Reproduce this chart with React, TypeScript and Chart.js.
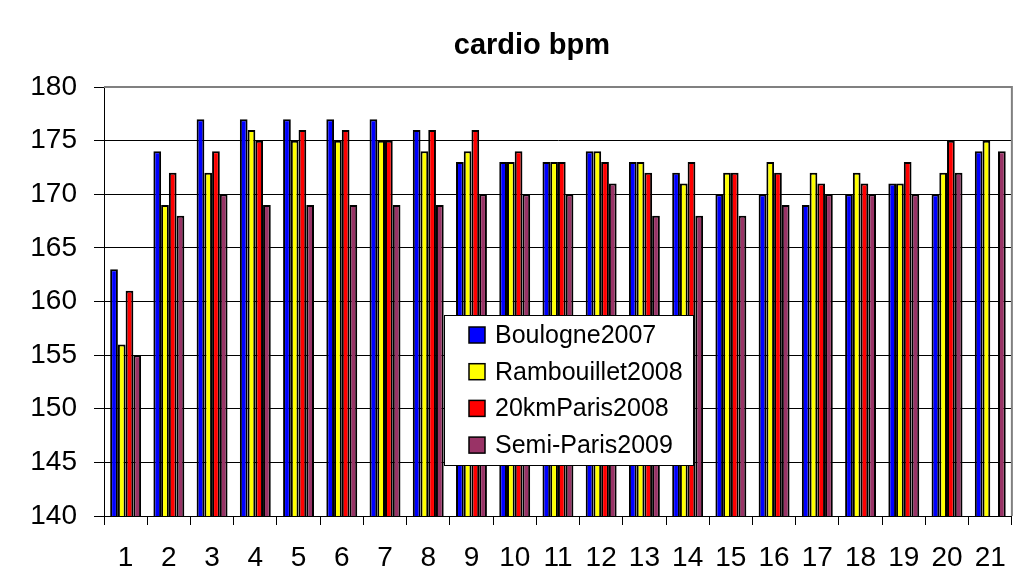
import React, { useEffect, useRef } from "react";
import { Chart, registerables } from "chart.js";

Chart.register(...registerables);

const chartTitle = "cardio bpm";
const categories = ["1","2","3","4","5","6","7","8","9","10","11","12","13","14","15","16","17","18","19","20","21"];
const boulogne2007 = [163,174,177,177,177,177,177,176,173,173,173,174,173,172,170,170,169,170,171,170,174];
const rambouillet2008 = [156,169,172,176,175,175,175,174,174,173,173,174,173,171,172,173,172,172,171,172,175];
const paris20km2008 = [161,172,174,175,176,176,175,176,176,174,173,173,172,173,172,172,171,171,173,175,null];
const semiParis2009 = [155,168,170,169,169,169,169,169,170,170,170,171,168,168,168,169,170,170,170,172,174];
const seriesNames = ["Boulogne2007", "Rambouillet2008", "20kmParis2008", "Semi-Paris2009"];
const seriesColors = ["#0000FF", "#FFFF00", "#FF0000", "#993366"];
const yMin = 140;
const yMax = 180;
const yStep = 5;

const FONT = "'Liberation Sans', Arial, sans-serif";

const frameTitleLegend = {
  id: "frameTitleLegend",
  afterDraw(chart: any) {
    const { ctx, chartArea } = chart;
    ctx.save();
    // title
    ctx.fillStyle = "#000";
    ctx.font = `bold 29px ${FONT}`;
    ctx.textAlign = "center";
    ctx.textBaseline = "middle";
    ctx.fillText(chartTitle, (chartArea.left + chartArea.right) / 2 - 26, chartArea.top - 41);

    // gray top/right frame
    ctx.strokeStyle = "#808080";
    ctx.lineWidth = 2;
    ctx.beginPath();
    ctx.moveTo(chartArea.left, chartArea.top);
    ctx.lineTo(chartArea.right, chartArea.top);
    ctx.lineTo(chartArea.right, chartArea.bottom);
    ctx.stroke();

    // legend box
    const bx = chartArea.left + 340;
    const by = chartArea.top + 228;
    const bw = 249;
    const bh = 150;
    ctx.fillStyle = "#FFFFFF";
    ctx.fillRect(bx, by, bw, bh);
    ctx.strokeStyle = "#000";
    ctx.lineWidth = 1;
    ctx.strokeRect(bx + 0.5, by + 0.5, bw, bh);
    ctx.font = `25px ${FONT}`;
    ctx.textBaseline = "middle";
    ctx.textAlign = "left";
    chart.data.datasets.forEach((ds: any, i: number) => {
      const cy = by + 20 + i * 36.7;
      ctx.fillStyle = ds.backgroundColor;
      ctx.fillRect(bx + 25, cy - 8, 16, 16);
      ctx.strokeStyle = "#000";
      ctx.lineWidth = 1.5;
      ctx.strokeRect(bx + 25, cy - 8, 16, 16);
      ctx.fillStyle = "#000";
      ctx.fillText(ds.label, bx + 51, cy + 1);
    });
    ctx.restore();
  },
};

export default function App() {
  const ref = useRef<HTMLCanvasElement | null>(null);
  useEffect(() => {
    if (!ref.current) return;
    const seriesData = [boulogne2007, rambouillet2008, paris20km2008, semiParis2009];
    const chart = new Chart(ref.current, {
      type: "bar",
      data: {
        labels: categories,
        datasets: seriesData.map((d, i) => ({
          label: seriesNames[i],
          data: d,
          backgroundColor: seriesColors[i],
          borderColor: "#000000",
          borderWidth: 2,
          barPercentage: 1,
          categoryPercentage: 0.715,
        })),
      },
      options: {
        responsive: false,
        animation: false,
        layout: { padding: { left: 0, right: 7, top: 87, bottom: 0 } },
        plugins: {
          legend: { display: false },
          tooltip: { enabled: false },
          title: { display: false },
        },
        scales: {
          x: {
            ticks: { color: "#000", font: { family: FONT, size: 28 }, padding: 16, maxRotation: 0, autoSkip: false },
            grid: { offset: true, drawOnChartArea: false, drawTicks: true, tickLength: 9, color: "#000", lineWidth: 1 },
            border: { color: "#000", width: 1 },
            afterFit(scale: any) { scale.height = 68; },
          },
          y: {
            min: yMin,
            max: yMax,
            ticks: { stepSize: yStep, color: "#000", font: { family: FONT, size: 28 }, padding: 17 },
            grid: {
              color: (c: any) => (c.tick && c.tick.value === yMax ? "rgba(0,0,0,0)" : "#000"),
              tickColor: "#000",
              tickLength: 10,
              lineWidth: 1,
            },
            border: { color: "#000", width: 1 },
            afterFit(scale: any) { scale.width = 104; },
          },
        },
      },
      plugins: [frameTitleLegend],
    });
    return () => chart.destroy();
  }, []);
  return (
    <div style={{ position: "fixed", left: 0, top: 0, width: 1022, height: 584, background: "#fff" }}>
      <canvas ref={ref} width={1022} height={584} />
    </div>
  );
}
